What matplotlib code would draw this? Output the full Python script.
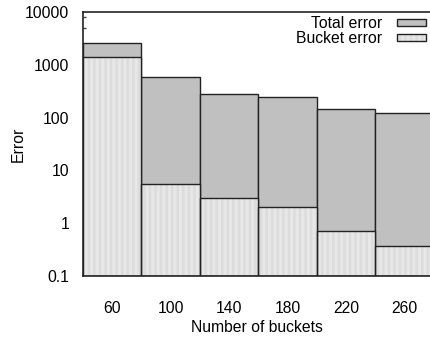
import matplotlib
matplotlib.use("Agg")
import matplotlib.pyplot as plt
from matplotlib.patches import Patch
from matplotlib.legend_handler import HandlerTuple
from matplotlib.ticker import LogLocator, FixedLocator, NullFormatter

plt.rcParams['font.family'] = ['Liberation Sans', 'DejaVu Sans']
plt.rcParams['hatch.linewidth'] = 2.2

buckets = [60, 100, 140, 180, 220, 260]
total_error = [2580, 585, 278, 244, 146, 123]
bucket_error = [1440, 5.45, 2.95, 2.0, 0.72, 0.37]
ytick_vals = [0.1, 1, 10, 100, 1000, 10000]
ytick_labels = ["0.1", "1", "10", "100", "1000", "10000"]

total_color = "#c0c0c0"
bucket_color = "#dcdcdc"
stripe_color = "#e7e7e7"
fs = 11.3

fig = plt.figure(figsize=(4.30, 3.37), dpi=100)
ax = fig.add_axes([83/430, 1 - 275.7/337, 1 - 83/430, (275.7 - 12.3)/337])
ax.set_yscale('log')
ax.set_ylim(0.1, 10000)
ax.set_xlim(40, 277.3)

width = 40
bottom = 0.1
ax.bar(buckets, [t - bottom for t in total_error], width=width, bottom=bottom,
       color=total_color, edgecolor="#222222", linewidth=1.0, zorder=2)
ax.bar(buckets, [b - bottom for b in bucket_error], width=width, bottom=bottom,
       color=bucket_color, edgecolor=stripe_color, linewidth=0, hatch='|||', zorder=3)
ax.bar(buckets, [b - bottom for b in bucket_error], width=width, bottom=bottom,
       fill=False, edgecolor="#222222", linewidth=1.0, zorder=4)

ax.set_axisbelow(True)
ax.yaxis.set_major_locator(FixedLocator(ytick_vals))
ax.set_yticks(ytick_vals)
ax.set_yticklabels(ytick_labels)
ax.yaxis.set_minor_locator(LogLocator(base=10, subs=(5.0, 8.0)))
ax.yaxis.set_minor_formatter(NullFormatter())
ax.set_xticks(buckets)
ax.set_xticklabels([str(b) for b in buckets])
ax.tick_params(axis='y', which='major', direction='in', length=0,
               labelsize=fs, pad=10)
ax.tick_params(axis='y', which='minor', direction='in', length=2.5, width=1, color="#444444")
ax.tick_params(axis='x', which='both', length=0, labelsize=fs, pad=18)

for s in ['left', 'top', 'bottom']:
    ax.spines[s].set_linewidth(1.2)
    ax.spines[s].set_color("#222222")
    ax.spines[s].set_zorder(5)
ax.spines['right'].set_visible(False)

ax.set_xlabel("Number of buckets", fontsize=fs, labelpad=3)
ax.set_ylabel("Error", fontsize=fs, labelpad=-1)

h_total = Patch(facecolor=total_color, edgecolor="#222222", linewidth=1.0)
h_b1 = Patch(facecolor=bucket_color, edgecolor=stripe_color, linewidth=0, hatch='|||')
h_b2 = Patch(fill=False, edgecolor="#222222", linewidth=1.0)
leg = ax.legend([h_total, (h_b1, h_b2)], ["Total error", "Bucket error"],
                handler_map={tuple: HandlerTuple(ndivide=1)},
                loc='upper right', bbox_to_anchor=(1.0, 1.0),
                frameon=False, markerfirst=False, fontsize=fs,
                handlelength=1.85, handleheight=0.3, labelspacing=0.0,
                handletextpad=0.95, borderpad=0.1, borderaxespad=0.15)
for t in leg.get_texts():
    t.set_ha('right')

fig.savefig("out.png", dpi=100)
